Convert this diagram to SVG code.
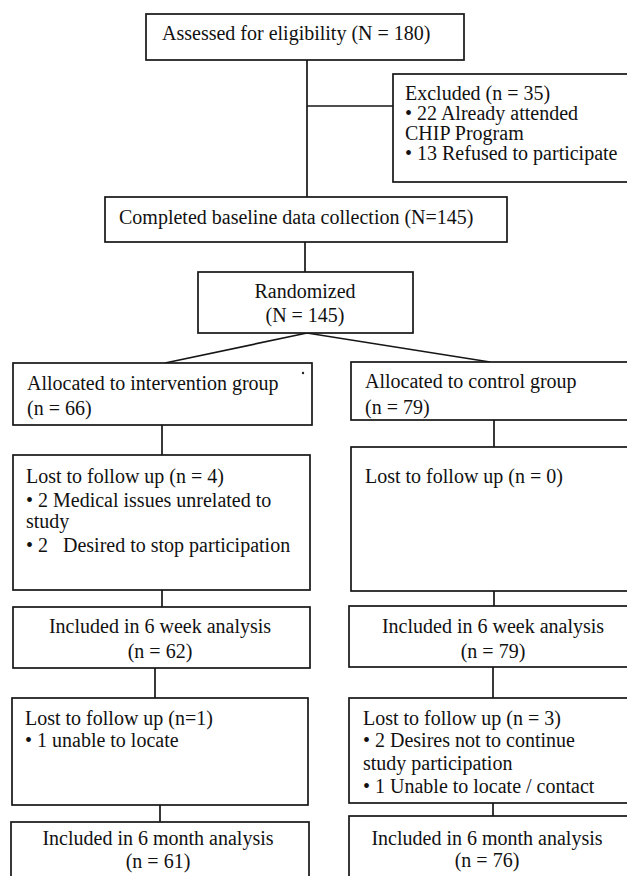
<svg xmlns="http://www.w3.org/2000/svg" width="627" height="876" viewBox="0 0 627 876">
<style>
.b{fill:#fff;stroke:#161616;stroke-width:1.7}
.c{fill:none;stroke:#161616;stroke-width:1.7}
text{font-family:"Liberation Serif","Times New Roman",serif;font-size:20px;fill:#111}
.m{text-anchor:middle}
</style>
<rect width="627" height="876" fill="#fff"/>
<g id="connectors">
<line class="c" x1="307" y1="60" x2="307" y2="197"/>
<line class="c" x1="307" y1="106" x2="393" y2="106"/>
<line class="c" x1="305" y1="242" x2="305" y2="272"/>
<polyline class="c" points="165,363 307,333 490,362"/>
<line class="c" x1="162" y1="425" x2="162" y2="455"/>
<line class="c" x1="494" y1="420" x2="494" y2="447"/>
<line class="c" x1="162" y1="590" x2="162" y2="607"/>
<line class="c" x1="494" y1="591" x2="494" y2="606"/>
<line class="c" x1="155" y1="668" x2="155" y2="698"/>
<line class="c" x1="493" y1="667" x2="493" y2="698"/>
<line class="c" x1="160" y1="805" x2="160" y2="822"/>
<line class="c" x1="493" y1="803" x2="493" y2="816"/>
</g>
<g id="assessed">
<rect class="b" x="146" y="14" width="318" height="46"/>
<text x="162" y="40">Assessed for eligibility (N = 180)</text>
</g>
<g id="excluded">
<rect class="b" x="393" y="74" width="250" height="108"/>
<text x="405" y="100">Excluded (n = 35)</text>
<text x="405" y="120">• 22 Already attended</text>
<text x="405" y="140">CHIP Program</text>
<text x="405" y="160">• 13 Refused to participate</text>
</g>
<g id="baseline">
<rect class="b" x="105" y="197" width="402" height="45"/>
<text x="119" y="224">Completed baseline data collection (N=145)</text>
</g>
<g id="randomized">
<rect class="b" x="198" y="272" width="215" height="61"/>
<text class="m" x="305" y="298">Randomized</text>
<text class="m" x="305" y="322">(N = 145)</text>
</g>
<g id="alloc-int">
<rect class="b" x="13" y="363" width="299" height="62"/>
<text x="27" y="390">Allocated to intervention group</text>
<text x="27" y="415">(n = 66)</text>
<circle cx="303" cy="373" r="1.2" fill="#222"/>
</g>
<g id="alloc-ctrl">
<rect class="b" x="351" y="362" width="290" height="58"/>
<text x="365" y="388">Allocated to control group</text>
<text x="365" y="414">(n = 79)</text>
</g>
<g id="lost-int-1">
<rect class="b" x="13" y="455" width="297" height="135"/>
<text x="26" y="483">Lost to follow up (n = 4)</text>
<text x="26" y="507">• 2 Medical issues unrelated to</text>
<text x="26" y="528">study</text>
<text x="26" y="552" xml:space="preserve">• 2   Desired to stop participation</text>
</g>
<g id="lost-ctrl-1">
<rect class="b" x="351" y="447" width="290" height="144"/>
<text x="365" y="483">Lost to follow up (n = 0)</text>
</g>
<g id="incl-int-6w">
<rect class="b" x="13" y="607" width="297" height="61"/>
<text class="m" x="160" y="633">Included in 6 week analysis</text>
<text class="m" x="160" y="658">(n = 62)</text>
</g>
<g id="incl-ctrl-6w">
<rect class="b" x="349" y="606" width="292" height="61"/>
<text class="m" x="493" y="633">Included in 6 week analysis</text>
<text class="m" x="493" y="658">(n = 79)</text>
</g>
<g id="lost-int-2">
<rect class="b" x="12" y="698" width="296" height="107"/>
<text x="25" y="725">Lost to follow up (n=1)</text>
<text x="25" y="747">• 1 unable to locate</text>
</g>
<g id="lost-ctrl-2">
<rect class="b" x="349" y="698" width="292" height="105"/>
<text x="363" y="725">Lost to follow up (n = 3)</text>
<text x="363" y="747">• 2 Desires not to continue</text>
<text x="363" y="770">study participation</text>
<text x="363" y="793">• 1 Unable to locate / contact</text>
</g>
<g id="incl-int-6m">
<rect class="b" x="11" y="822" width="298" height="70"/>
<text class="m" x="158" y="845">Included in 6 month analysis</text>
<text class="m" x="158" y="868">(n = 61)</text>
</g>
<g id="incl-ctrl-6m">
<rect class="b" x="349" y="816" width="292" height="76"/>
<text class="m" x="487" y="845">Included in 6 month analysis</text>
<text class="m" x="487" y="867">(n = 76)</text>
</g>
</svg>
